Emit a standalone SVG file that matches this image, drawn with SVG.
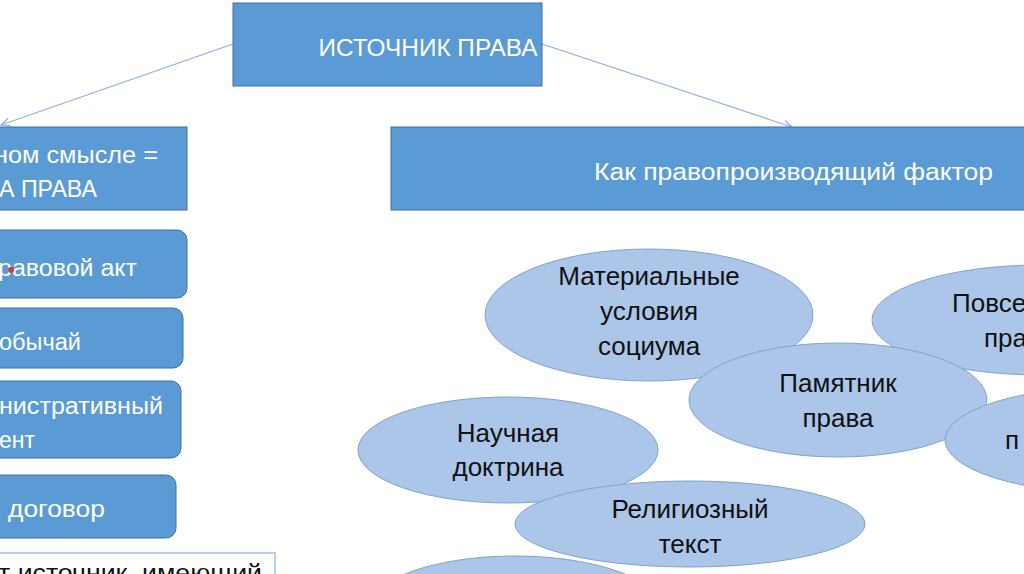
<svg xmlns="http://www.w3.org/2000/svg" width="1024" height="574" viewBox="0 0 1024 574">
<defs>
<style>
.box{fill:#5b9bd5;stroke:#41719c;stroke-width:1}
.wt{fill:#ffffff;font-family:"Liberation Sans","Open Sans",sans-serif;font-size:23px}
.el{fill:#abc6e8;stroke:#7fa3d0;stroke-width:1}
.bt{fill:#111111;font-family:"Liberation Sans","Open Sans",sans-serif;font-size:26px}
.mid{text-anchor:middle}
.conn{stroke:#8fb0dc;stroke-width:1.2;fill:none}
</style>
<marker id="arr" viewBox="0 0 10 10" refX="9" refY="5" markerWidth="10" markerHeight="10" orient="auto" markerUnits="userSpaceOnUse">
<path d="M0,1 L9,5 L0,9" fill="none" stroke="#8fb0dc" stroke-width="1.2"/>
</marker>
</defs>
<rect width="1024" height="574" fill="#ffffff"/>
<g id="connectors">
<line class="conn" x1="233" y1="44" x2="1" y2="125" marker-end="url(#arr)"/>
<line class="conn" x1="542" y1="44" x2="792" y2="127" marker-end="url(#arr)"/>
</g>
<g id="top">
<rect class="box" x="233" y="3" width="309" height="83"/>
<text class="wt" x="428" y="56" text-anchor="middle" font-size="22" textLength="219" lengthAdjust="spacingAndGlyphs">ИСТОЧНИК ПРАВА</text>
</g>
<g id="left-head">
<rect class="box" x="-10" y="127" width="197" height="83"/>
<text class="wt" x="-6" y="163" textLength="164" lengthAdjust="spacingAndGlyphs">ном смысле =</text>
<text class="wt" x="-1" y="197" textLength="98" lengthAdjust="spacingAndGlyphs">А ПРАВА</text>
</g>
<g id="right-head">
<rect class="box" x="391" y="127" width="650" height="83"/>
<text class="wt" x="594" y="180" textLength="399" lengthAdjust="spacingAndGlyphs">Как правопроизводящий фактор</text>
</g>
<g id="n-act">
<rect class="box" x="-20" y="230" width="207" height="68" rx="10"/>
<text class="wt" x="-2" y="276" textLength="139" lengthAdjust="spacingAndGlyphs">равовой акт</text>
<circle cx="11" cy="270" r="3" fill="#d9383a"/>
</g>
<g id="n-custom">
<rect class="box" x="-20" y="308" width="203" height="60" rx="10"/>
<text class="wt" x="-1" y="350" textLength="82" lengthAdjust="spacingAndGlyphs">обычай</text>
</g>
<g id="n-admin">
<rect class="box" x="-20" y="381" width="201" height="77" rx="10"/>
<text class="wt" x="-1" y="414" textLength="164" lengthAdjust="spacingAndGlyphs">нистративный</text>
<text class="wt" x="-1" y="448" textLength="36" lengthAdjust="spacingAndGlyphs">ент</text>
</g>
<g id="n-contract">
<rect class="box" x="-20" y="475" width="196" height="63" rx="10"/>
<text class="wt" x="8" y="517" textLength="97" lengthAdjust="spacingAndGlyphs">договор</text>
</g>
<g id="n-bottom">
<rect x="-10" y="553" width="285" height="40" fill="#ffffff" stroke="#8fb0dc" stroke-width="1.2"/>
<text x="-2" y="581" fill="#111111" font-family="Liberation Sans, sans-serif" font-size="24" textLength="264" lengthAdjust="spacingAndGlyphs">т источник, имеющий</text>
</g>
<g id="e-material">
<ellipse class="el" cx="649" cy="315" rx="164" ry="66"/>
<text class="bt mid" x="649" y="285">Материальные</text>
<text class="bt mid" x="649" y="320">условия</text>
<text class="bt mid" x="649" y="355">социума</text>
</g>
<g id="e-everyday">
<ellipse class="el" cx="1040" cy="320" rx="168" ry="55"/>
<text class="bt" x="952" y="312">Повсе</text>
<text class="bt" x="984" y="347">пра</text>
</g>
<g id="e-monument">
<ellipse class="el" cx="838" cy="400" rx="149" ry="57"/>
<text class="bt mid" x="838" y="392">Памятник</text>
<text class="bt mid" x="838" y="427">права</text>
</g>
<g id="e-right">
<ellipse class="el" cx="1110" cy="440" rx="165" ry="53"/>
<text class="bt" x="1005" y="449">п</text>
</g>
<g id="e-doctrine">
<ellipse class="el" cx="508" cy="450" rx="150" ry="53"/>
<text class="bt mid" x="508" y="442">Научная</text>
<text class="bt mid" x="508" y="476">доктрина</text>
</g>
<g id="e-religious">
<ellipse class="el" cx="690" cy="524" rx="175" ry="43"/>
<text class="bt mid" x="690" y="518">Религиозный</text>
<text class="bt mid" x="690" y="553">текст</text>
</g>
<g id="e-bottom">
<ellipse class="el" cx="515" cy="612" rx="150" ry="56"/>
</g>
</svg>
